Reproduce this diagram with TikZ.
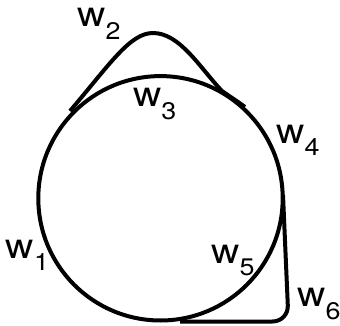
\documentclass[tikz,border=0pt]{standalone}
\usepackage{fontspec}
\newfontfamily\lblfont[FakeStretch=1.12]{TeX Gyre Heros}
\newcommand{\wsub}[1]{w\raisebox{-12.5pt}{\fontsize{24}{24}\selectfont #1}}
\tikzset{
	curve/.style={line width=4pt},
	lbl/.style={anchor=base west, inner sep=0pt, font=\lblfont\fontsize{35}{35}\selectfont},
}

\begin{document}
\begin{tikzpicture}[x=1pt, y=-1pt]
	\useasboundingbox (0,0) rectangle (340,326);
	\coordinate (o) at (160.5,198.3);
	\draw[curve] (o) circle[radius=122.2pt];
	% loop over the top
	\coordinate (a) at (70,111);
	\coordinate (top) at (153,33);
	\coordinate (b) at (222,91);
	\coordinate (c) at (245,107);
	\draw[curve] (a) .. controls (110,64) and (130,33) .. (top) .. controls (180,33) and (200,68) .. (b) .. controls (229,96) and (237,101) .. (c);
	% loop at the lower right
	\coordinate (d) at (283,195);
	\coordinate (e) at (288.5,321.5);
	\coordinate (f) at (180,321.5);
	\draw[curve, rounded corners=16pt] (d) -- (e) -- (f);
	% labels
	\node[lbl] (w1) at (5.5,258.3) {\wsub{1}};
	\node[lbl] (w2) at (77.2,26.7) {\wsub{2}};
	\node[lbl] (w3) at (132.8,106.7) {\wsub{3}};
	\node[lbl] (w4) at (276.2,143.3) {\wsub{4}};
	\node[lbl] (w5) at (211.2,263.3) {\wsub{5}};
	\node[lbl] (w6) at (297,306.7) {\wsub{6}};
\end{tikzpicture}
\end{document}
